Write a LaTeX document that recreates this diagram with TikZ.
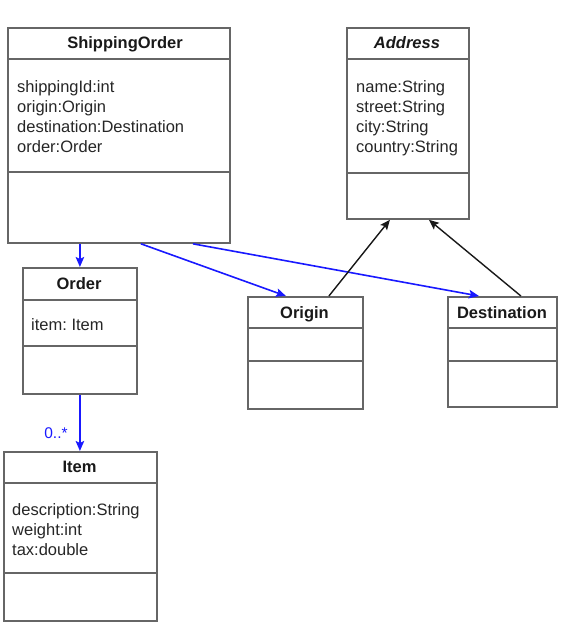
\documentclass[tikz,border=0pt]{standalone}
\usepackage{fontspec}
\setmainfont{Liberation Sans}
\usetikzlibrary{arrows.meta}
\frenchspacing

\begin{document}
\begin{tikzpicture}[
        x=1pt, y=-1pt,
        box/.style={draw=black!60, line width=1.8pt, anchor=north west, inner sep=0pt},
        sep/.style={draw=black!60, line width=1.8pt},
        title/.style={anchor=base, inner sep=0pt, text=black!90, font=\fontsize{16.5}{20}\selectfont\bfseries},
        attrs/.style={anchor=north west, inner sep=0pt, align=left, text=black!85, font=\fontsize{16.5}{20}\selectfont},
        assoc/.style={draw=blue!90, line width=1.6pt, -{Stealth[length=10pt, width=8.5pt, inset=2pt]}},
        gen/.style={draw=black!90, line width=1.4pt, -{Stealth[length=10pt, width=8.5pt, inset=2pt]}},
        mult/.style={inner sep=0pt, text=blue!90, font=\fontsize{15.5}{18}\selectfont},
    ]
    \useasboundingbox (0,0) rectangle (588,634);

    % classes
    \node[box, minimum width=222pt, minimum height=215pt] (ship) at (7,27) {};
    \node[title] (shipT) at (125,48.5) {ShippingOrder};
    \node[attrs] (shipA) at (17,80) {shippingId:int\\origin:Origin\\destination:Destination\\order:Order};
    \draw[sep] (ship.west |- 0,59) -- (ship.east |- 0,59);
    \draw[sep] (ship.west |- 0,172) -- (ship.east |- 0,172);

    \node[box, minimum width=122pt, minimum height=191pt] (address) at (346,27) {};
    \node[title, font=\fontsize{16.5}{20}\selectfont\bfseries\itshape] (addressT) at (407,48.5) {Address};
    \node[attrs] (addressA) at (356,80) {name:String\\street:String\\city:String\\country:String};
    \draw[sep] (address.west |- 0,59) -- (address.east |- 0,59);
    \draw[sep] (address.west |- 0,173) -- (address.east |- 0,173);

    \node[box, minimum width=114pt, minimum height=126pt] (order) at (22,267) {};
    \node[title] (orderT) at (79,289) {Order};
    \node[attrs] (orderA) at (31,318.5) {item: Item};
    \draw[sep] (order.west |- 0,300) -- (order.east |- 0,300);
    \draw[sep] (order.west |- 0,346) -- (order.east |- 0,346);

    \node[box, minimum width=115pt, minimum height=112pt] (origin) at (247,296) {};
    \node[title] (originT) at (304.5,318) {Origin};
    \draw[sep] (origin.west |- 0,328) -- (origin.east |- 0,328);
    \draw[sep] (origin.west |- 0,361) -- (origin.east |- 0,361);

    \node[box, minimum width=109pt, minimum height=110pt] (dest) at (447,296) {};
    \node[title] (destT) at (502,318) {Destination};
    \draw[sep] (dest.west |- 0,328) -- (dest.east |- 0,328);
    \draw[sep] (dest.west |- 0,361) -- (dest.east |- 0,361);

    \node[box, minimum width=153pt, minimum height=169pt] (item) at (3,451) {};
    \node[title] (itemT) at (79.5,472) {Item};
    \node[attrs] (itemA) at (12,503) {description:String\\weight:int\\tax:double};
    \draw[sep] (item.west |- 0,483) -- (item.east |- 0,483);
    \draw[sep] (item.west |- 0,573) -- (item.east |- 0,573);

    % associations
    \draw[assoc] (ship.south -| order.north) -- (order.north);
    \draw[assoc] ([xshift=22pt]ship.south) -- ([xshift=-19.5pt]origin.north);
    \draw[assoc] ([xshift=74pt]ship.south) -- ([xshift=-23.5pt]dest.north);
    \draw[assoc] (order.south) -- (order.south |- item.north);
    \node[mult] (itemM) at (56,433) {0..*};

    % generalisations
    \draw[gen] ([xshift=23.5pt]origin.north) -- ([xshift=-18pt]address.south);
    \draw[gen] ([xshift=18.5pt]dest.north) -- ([xshift=21pt]address.south);
\end{tikzpicture}
\end{document}
